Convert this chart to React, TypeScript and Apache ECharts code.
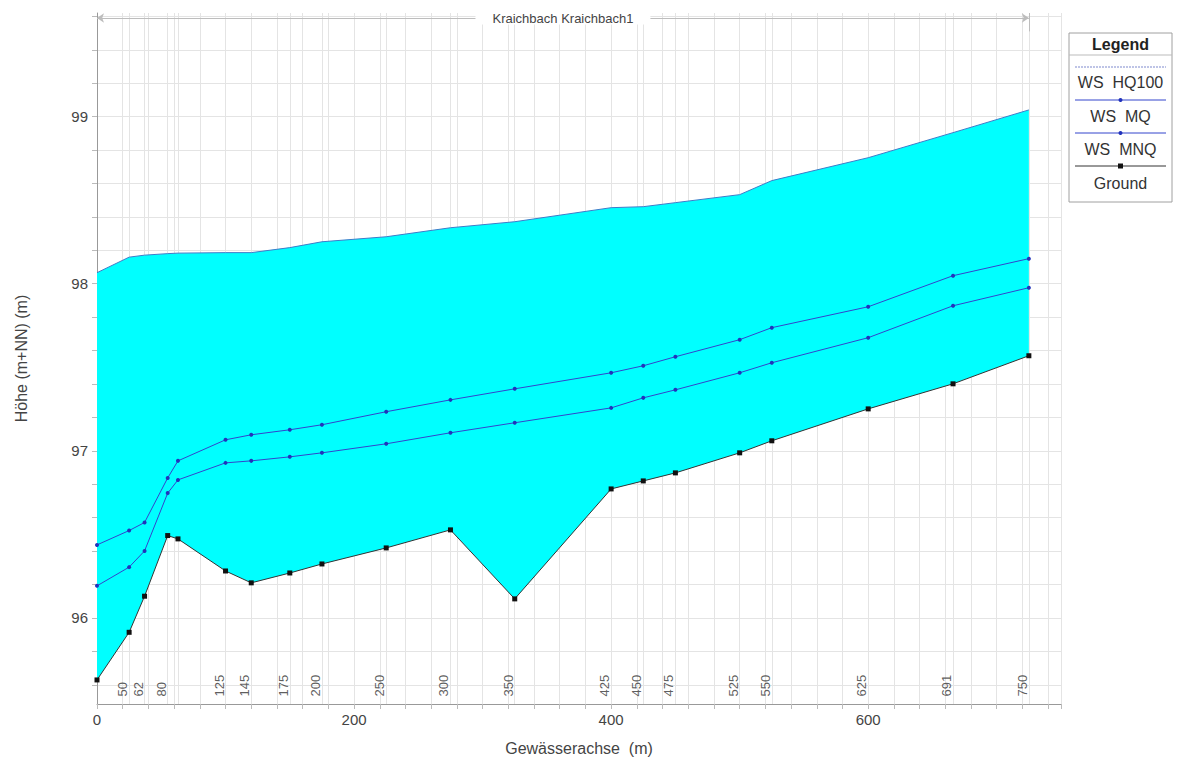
import React, { useEffect, useRef } from 'react';
import * as echarts from 'echarts';

// Station positions along the river axis (m) and their station names
const stationX = [0, 25, 37, 55, 63, 100, 120, 150, 175, 225, 275, 325, 400, 425, 450, 500, 525, 600, 666, 725];
const stationNames = ['', '50', '62', '80', '', '125', '145', '175', '200', '250', '300', '350', '425', '450', '475', '525', '550', '625', '691', '750'];

// Water surface levels and ground (m+NN)
const wsHQ100 = [98.066, 98.159, 98.171, 98.18, 98.183, 98.186, 98.186, 98.216, 98.251, 98.281, 98.335, 98.371, 98.455, 98.461, 98.485, 98.533, 98.617, 98.754, 98.904, 99.04];
const wsMQ = [96.437, 96.523, 96.571, 96.838, 96.94, 97.066, 97.096, 97.126, 97.156, 97.234, 97.305, 97.371, 97.467, 97.509, 97.563, 97.665, 97.737, 97.862, 98.048, 98.15];
const wsMNQ = [96.192, 96.304, 96.401, 96.747, 96.826, 96.928, 96.94, 96.964, 96.988, 97.042, 97.108, 97.168, 97.257, 97.317, 97.365, 97.467, 97.527, 97.677, 97.868, 97.976];
const ground = [95.629, 95.914, 96.13, 96.493, 96.473, 96.281, 96.21, 96.269, 96.323, 96.419, 96.527, 96.114, 96.772, 96.82, 96.868, 96.988, 97.06, 97.251, 97.401, 97.569];

// Axis ticks
const yLabelValues = [96, 97, 98, 99];
const yTickValues = [95.6, 95.8, 96, 96.2, 96.4, 96.6, 96.8, 97, 97.2, 97.4, 97.6, 97.8, 98, 98.2, 98.4, 98.6, 98.8, 99, 99.2, 99.4, 99.6];
const xLabelStep = 200;
const titleText = 'Kraichbach Kraichbach1';

const FONT = 'Arial, "Liberation Sans", sans-serif';

export default function App() {
  const ref = useRef<HTMLDivElement>(null);
  useEffect(() => {
    const chart = echarts.init(ref.current!, null, { renderer: 'svg' });
    const lastX = stationX[stationX.length - 1];
    const option: any = {
      animation: false,
      backgroundColor: '#ffffff',
      textStyle: { fontFamily: FONT },
      grid: { left: 97, right: 116, top: 13, bottom: 60, outerBoundsMode: 'none' },
      xAxis: {
        type: 'value',
        min: 0,
        max: 750,
        interval: 20,
        name: 'Gewässerachse  (m)',
        nameLocation: 'middle',
        nameGap: 36,
        nameTextStyle: { fontSize: 16, color: '#444', fontFamily: FONT },
        axisLine: { show: true, lineStyle: { color: '#999', width: 1 } },
        axisTick: { show: true, length: 5, lineStyle: { color: '#bbb' } },
        axisLabel: {
          fontSize: 15,
          color: '#444',
          margin: 8,
          formatter: (v: number) => (v % xLabelStep === 0 ? String(v) : ''),
        },
        splitLine: { show: true, lineStyle: { color: '#e4e4e4', width: 1 } },
      },
      yAxis: {
        type: 'value',
        min: 95.485,
        max: 99.62,
        name: 'Höhe (m+NN) (m)',
        nameLocation: 'middle',
        nameGap: 68,
        nameRotate: 90,
        nameTextStyle: { fontSize: 16, color: '#444', fontFamily: FONT },
        axisLine: { show: true, lineStyle: { color: '#999', width: 1 } },
        axisTick: { show: true, length: 5, customValues: yTickValues, lineStyle: { color: '#bbb' } },
        axisLabel: { fontSize: 15, color: '#444', margin: 9, customValues: yLabelValues },
        splitLine: { show: true, lineStyle: { color: '#e4e4e4', width: 1 } },
      },
      series: [
        {
          name: 'HQ100 area',
          type: 'custom',
          silent: true,
          clip: true,
          z: 2,
          data: stationX.map((x, i) => [x, wsHQ100[i], ground[i]]),
          encode: { x: 0, y: [1, 2] },
          renderItem: (params: any, api: any) => {
            if (params.dataIndex !== 0) return null;
            const top = stationX.map((x, i) => api.coord([x, wsHQ100[i]]));
            const bottom = stationX.map((x, i) => api.coord([x, ground[i]])).reverse();
            return {
              type: 'polygon',
              shape: { points: top.concat(bottom) },
              style: { fill: '#00ffff', stroke: null },
            };
          },
        },
        {
          name: 'WS HQ100',
          type: 'line',
          data: stationX.map((x, i) => [x, wsHQ100[i]]),
          symbol: 'none',
          lineStyle: { color: '#3d7cc9', width: 1 },
          z: 3,
        },
        {
          name: 'Ground',
          type: 'line',
          data: stationX.map((x, i) => [x, ground[i]]),
          symbol: 'rect',
          symbolSize: 5,
          showSymbol: true,
          itemStyle: { color: '#111' },
          lineStyle: { color: '#333', width: 1 },
          z: 4,
        },
        {
          name: 'WS MQ',
          type: 'line',
          data: stationX.map((x, i) => [x, wsMQ[i]]),
          symbol: 'circle',
          symbolSize: 4,
          itemStyle: { color: '#2233bb' },
          lineStyle: { color: '#3344cc', width: 1 },
          z: 3,
          markLine: {
            silent: true,
            symbol: 'none',
            animation: false,
            lineStyle: { color: '#bdbdbd', width: 1, type: 'solid' },
            data: [
              [
                { coord: [0, 99.59], symbol: 'arrow', symbolSize: 7 },
                { coord: [lastX, 99.59], symbol: 'arrow', symbolSize: 7 },
              ],
              [
                { coord: [lastX, 99.51], label: { show: false } },
                { coord: [lastX, 99.62], label: { show: false } },
              ],
            ],
            label: {
              show: true,
              position: 'insideMiddle',
              formatter: titleText,
              color: '#444',
              fontSize: 13,
              fontFamily: FONT,
              backgroundColor: '#ffffff',
              padding: [0, 17],
            },
          },
        },
        {
          name: 'WS MNQ',
          type: 'line',
          data: stationX.map((x, i) => [x, wsMNQ[i]]),
          symbol: 'circle',
          symbolSize: 4,
          itemStyle: { color: '#2233bb' },
          lineStyle: { color: '#3344cc', width: 1 },
          z: 3,
        },
        {
          name: 'stations',
          type: 'scatter',
          data: stationX.map((x, i) => ({ value: [x, 95.53], name: stationNames[i] })),
          symbolSize: 0,
          silent: true,
          z: 3,
          label: {
            show: true,
            position: 'inside',
            rotate: 90,
            align: 'left',
            verticalAlign: 'bottom',
            formatter: (p: any) => p.name,
            color: '#333',
            fontSize: 13,
            fontFamily: FONT,
          },
          markLine: {
            silent: true,
            symbol: 'none',
            z: 1,
            label: { show: false },
            lineStyle: { color: '#e4e4e4', width: 1, type: 'solid' },
            data: stationX.slice(1).map((x) => ({ xAxis: x })),
          },
        },
      ],
      graphic: {
        elements: [
          { type: 'rect', shape: { x: 1069, y: 33, width: 103, height: 169 }, style: { fill: '#fff', stroke: '#a0a0a0', lineWidth: 1 } },
          { type: 'text', x: 1120.5, y: 44, style: { text: 'Legend', fontSize: 16, fontWeight: 'bold', fontFamily: FONT, fill: '#222', align: 'center', verticalAlign: 'middle' } },
          { type: 'line', shape: { x1: 1069, y1: 55, x2: 1172, y2: 55 }, style: { stroke: '#bbb', lineWidth: 1 } },
          { type: 'line', shape: { x1: 1075, y1: 67, x2: 1166, y2: 67 }, style: { stroke: '#a9b1de', lineWidth: 1.5, lineDash: [2, 1] } },
          { type: 'text', x: 1120.5, y: 82, style: { text: 'WS  HQ100', fontSize: 16, fontFamily: FONT, fill: '#333', align: 'center', verticalAlign: 'middle' } },
          { type: 'line', shape: { x1: 1075, y1: 100, x2: 1166, y2: 100 }, style: { stroke: '#3344cc', lineWidth: 1 } },
          { type: 'circle', shape: { cx: 1120.5, cy: 100, r: 2 }, style: { fill: '#2233bb' } },
          { type: 'text', x: 1120.5, y: 116, style: { text: 'WS  MQ', fontSize: 16, fontFamily: FONT, fill: '#333', align: 'center', verticalAlign: 'middle' } },
          { type: 'line', shape: { x1: 1075, y1: 133, x2: 1166, y2: 133 }, style: { stroke: '#3344cc', lineWidth: 1 } },
          { type: 'circle', shape: { cx: 1120.5, cy: 133, r: 2 }, style: { fill: '#2233bb' } },
          { type: 'text', x: 1120.5, y: 149, style: { text: 'WS  MNQ', fontSize: 16, fontFamily: FONT, fill: '#333', align: 'center', verticalAlign: 'middle' } },
          { type: 'line', shape: { x1: 1075, y1: 166, x2: 1166, y2: 166 }, style: { stroke: '#333', lineWidth: 1 } },
          { type: 'rect', shape: { x: 1118, y: 163.5, width: 5, height: 5 }, style: { fill: '#111' } },
          { type: 'text', x: 1120.5, y: 183, style: { text: 'Ground', fontSize: 16, fontFamily: FONT, fill: '#333', align: 'center', verticalAlign: 'middle' } },
        ],
      },
    };
    chart.setOption(option);
    return () => chart.dispose();
  }, []);
  return <div ref={ref} style={{ position: 'absolute', left: 0, top: 0, width: 1177, height: 764 }} />;
}
